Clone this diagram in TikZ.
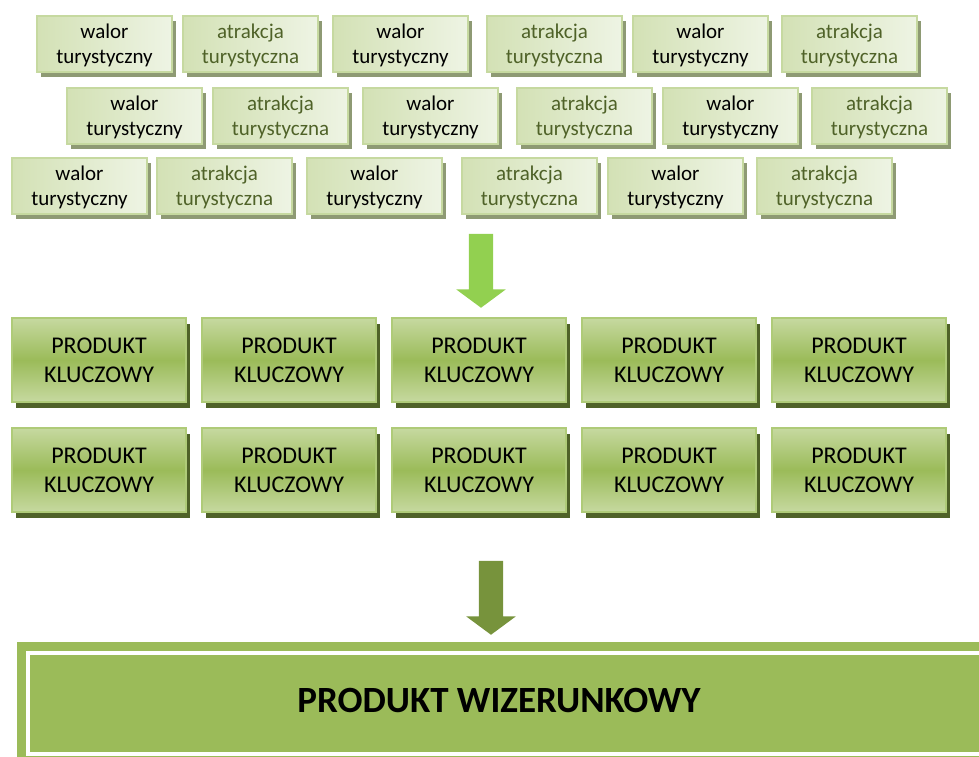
\documentclass[tikz,border=0pt]{standalone}
\usepackage{fontspec}
\setmainfont{Carlito}
\usetikzlibrary{positioning, shadows, shapes.arrows}

\definecolor{walorfill}{HTML}{D3E1B5}
\definecolor{walorlight}{HTML}{EEF4E4}
\definecolor{walordraw}{HTML}{C6D9A0}
\definecolor{walorshadow}{HTML}{8E9A74}
\definecolor{atrtext}{HTML}{4F6228}
\definecolor{keymid}{HTML}{9BBB59}
\definecolor{keylight}{HTML}{C6D9A0}
\definecolor{keydraw}{HTML}{AFCB78}
\definecolor{keyshadow}{HTML}{4F6228}
\definecolor{arrowlight}{HTML}{92D050}
\definecolor{arrowdark}{HTML}{77933C}
\definecolor{wizgreen}{HTML}{9BBB59}

\tikzset{
    walorbox/.style={rectangle, draw=walordraw, line width=1.5pt,
        left color=walorfill, right color=walorlight,
        minimum width=135pt, minimum height=56pt, inner sep=0pt, text depth=0pt,
        align=center, font=\fontsize{21}{25}\selectfont,
        drop shadow={shadow xshift=4pt, shadow yshift=-5pt, fill=walorshadow, opacity=1}},
    atrbox/.style={walorbox, text=atrtext},
    keybox/.style={rectangle, draw=keydraw, line width=2pt,
        top color=keylight, bottom color=keylight, middle color=keymid,
        minimum width=174pt, minimum height=84pt, inner sep=0pt,
        align=center, font=\fontsize{24}{29}\selectfont,
        drop shadow={shadow xshift=4pt, shadow yshift=-6pt, fill=keyshadow, opacity=1}},
    downarrow/.style={single arrow, rotate=-90, anchor=tip, inner sep=0pt, inner ysep=12pt,
        minimum height=74pt, minimum width=49pt,
        single arrow head extend=12.5pt, single arrow tip angle=107},
}

\begin{document}
\begin{tikzpicture}[x=1pt, y=-1pt, node distance=110pt and 190pt, on grid]
    \useasboundingbox (0,0) rectangle (979,756);
    % Define the small boxes
    \node[walorbox] (w11) at (104.5,44) {walor\\turystyczny};
    \node[atrbox] (a11) at (250.5,44) {atrakcja\\turystyczna};
    \node[walorbox] (w12) at (400.5,44) {walor\\turystyczny};
    \node[atrbox] (a12) at (554.5,44) {atrakcja\\turystyczna};
    \node[walorbox] (w13) at (700.5,44) {walor\\turystyczny};
    \node[atrbox] (a13) at (849.5,44) {atrakcja\\turystyczna};
    \node[walorbox] (w21) at (134.5,116) {walor\\turystyczny};
    \node[atrbox] (a21) at (280.5,116) {atrakcja\\turystyczna};
    \node[walorbox] (w22) at (430.5,116) {walor\\turystyczny};
    \node[atrbox] (a22) at (584.5,116) {atrakcja\\turystyczna};
    \node[walorbox] (w23) at (730.5,116) {walor\\turystyczny};
    \node[atrbox] (a23) at (879.5,116) {atrakcja\\turystyczna};
    \node[walorbox] (w31) at (79.5,186) {walor\\turystyczny};
    \node[atrbox] (a31) at (224.5,186) {atrakcja\\turystyczna};
    \node[walorbox] (w32) at (374.5,186) {walor\\turystyczny};
    \node[atrbox] (a32) at (529.5,186) {atrakcja\\turystyczna};
    \node[walorbox] (w33) at (675.5,186) {walor\\turystyczny};
    \node[atrbox] (a33) at (824.5,186) {atrakcja\\turystyczna};
    % First arrow
    \node[downarrow, fill=arrowlight] (arrA) at (481,308) {};
    % Define the key products
    \node[keybox] (k11) at (99,360) {PRODUKT\\KLUCZOWY};
    \node[keybox] (k12) [right=of k11] {PRODUKT\\KLUCZOWY};
    \node[keybox] (k13) [right=of k12] {PRODUKT\\KLUCZOWY};
    \node[keybox] (k14) [right=of k13] {PRODUKT\\KLUCZOWY};
    \node[keybox] (k15) [right=of k14] {PRODUKT\\KLUCZOWY};
    \node[keybox] (k21) [below=of k11] {PRODUKT\\KLUCZOWY};
    \node[keybox] (k22) [right=of k21] {PRODUKT\\KLUCZOWY};
    \node[keybox] (k23) [right=of k22] {PRODUKT\\KLUCZOWY};
    \node[keybox] (k24) [right=of k23] {PRODUKT\\KLUCZOWY};
    \node[keybox] (k25) [right=of k24] {PRODUKT\\KLUCZOWY};
    % Second arrow
    \node[downarrow, fill=arrowdark] (arrB) at (491,635) {};
    % Image product
    \node[rectangle, fill=wizgreen, draw=wizgreen, double=white, double distance=4pt,
        line width=9pt, minimum width=964pt, minimum height=100.5pt] (wizframe) at (510,703.25) {};
    \node[font=\fontsize{37}{44}\selectfont\bfseries] (wiz) at (499,700) {PRODUKT WIZERUNKOWY};
\end{tikzpicture}
\end{document}
